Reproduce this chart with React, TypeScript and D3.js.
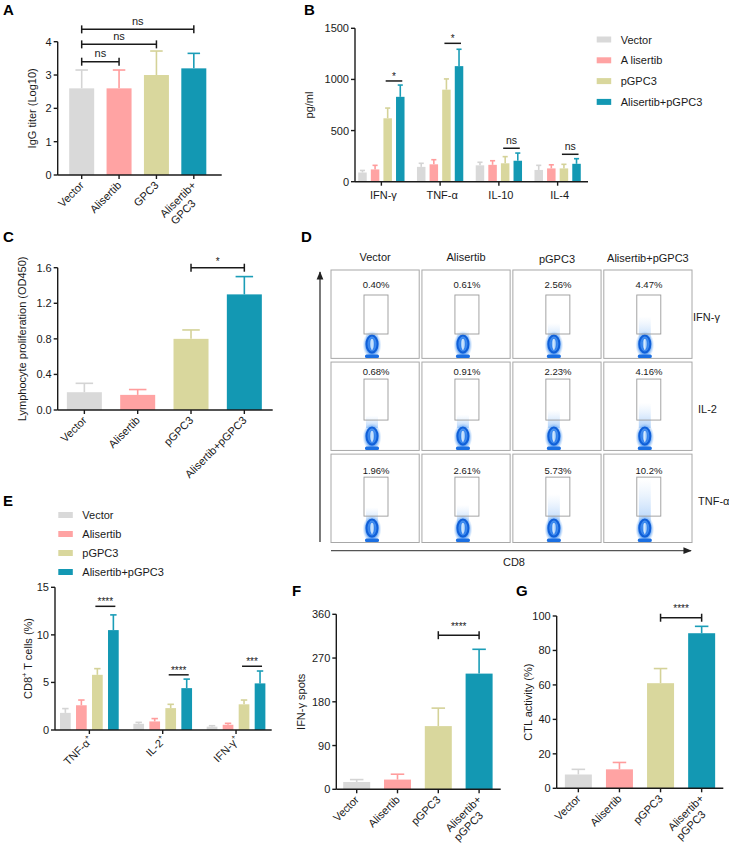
import * as d3 from 'd3';
import React from 'react';

const FONT = '"Liberation Sans", Arial, Helvetica, sans-serif';

// shared groups / colours
const SERIES = ['Vector', 'Alisertib', 'pGPC3', 'Alisertib+pGPC3'];
const B_LEGEND = ['Vector', 'A lisertib', 'pGPC3', 'Alisertib+pGPC3'];
const COLORS = ['#d9d9d9', '#ffa3a3', '#d9d79d', '#1398b3'];
const ERR_COLORS = ['#d4d4d4', '#ff9c9c', '#d4d298', '#1b9db7'];

// A – IgG titer
const A_LABELS = [['Vector'], ['Alisertib'], ['GPC3'], ['Alisertib+', 'GPC3']];
const A_MEAN = [2.6, 2.6, 3.0, 3.2];
const A_ERR = [3.15, 3.15, 3.72, 3.65];
const A_TICKS = [0, 1, 2, 3, 4];
const A_SIG: [number, number, number, string][] = [[0, 1, 3.4, 'ns'], [0, 2, 3.92, 'ns'], [0, 3, 4.37, 'ns']];

// B – cytokines pg/ml
const B_GROUPS = ['IFN-γ', 'TNF-α', 'IL-10', 'IL-4'];
const B_MEAN = [[90, 120, 620, 830], [145, 170, 900, 1130], [160, 165, 180, 205], [115, 130, 130, 175]];
const B_ERR = [[110, 160, 720, 945], [180, 215, 1005, 1295], [190, 205, 245, 280], [160, 165, 170, 225]];
const B_TICKS = [0, 500, 1000, 1500];
const B_SIG: [number, number, string][] = [[0, 985, '*'], [1, 1353, '*'], [2, 327, 'ns'], [3, 268, 'ns']];

// C – lymphocyte proliferation
const C_LABELS = [['Vector'], ['Alisertib'], ['pGPC3'], ['Alisertib+pGPC3']];
const C_MEAN = [0.2, 0.17, 0.8, 1.3];
const C_ERR = [0.3, 0.23, 0.9, 1.5];
const C_TICKS = [0, 0.4, 0.8, 1.2, 1.6];
const C_SIG: [number, number, number, string][] = [[2, 3, 1.6, '*']];

// D – flow cytometry
const D_ROWS = ['IFN-γ', 'IL-2', 'TNF-α'];
const D_PCT = [['0.40%', '0.61%', '2.56%', '4.47%'], ['0.68%', '0.91%', '2.23%', '4.16%'], ['1.96%', '2.61%', '5.73%', '10.2%']];

// E – CD8+ T cells %
const E_GROUPS = ['TNF-α', 'IL-2', 'IFN-γ'];
const E_MEAN = [[1.8, 2.6, 5.8, 10.5], [0.65, 0.9, 2.3, 4.4], [0.35, 0.55, 2.7, 4.9]];
const E_ERR = [[2.25, 3.15, 6.45, 12.1], [0.8, 1.2, 2.7, 5.35], [0.45, 0.7, 3.15, 6.2]];
const E_TICKS = [0, 5, 10, 15];
const E_SIG: [number, number, string][] = [[0, 13.0, '****'], [1, 5.8, '****'], [2, 6.7, '***']];

// F – IFN-γ spots
const FG_LABELS = [['Vector'], ['Alisertib'], ['pGPC3'], ['Alisertib+', 'pGPC3']];
const F_MEAN = [15, 20, 130, 238];
const F_ERR = [20, 31, 167, 288];
const F_TICKS = [0, 90, 180, 270, 360];
const F_SIG: [number, number, number, string][] = [[2, 3, 317, '****']];

// G – CTL activity
const G_MEAN = [8, 11, 61, 90];
const G_ERR = [11, 15, 69.5, 94];
const G_TICKS = [0, 20, 40, 60, 80, 100];
const G_SIG: [number, number, number, string][] = [[2, 3, 99, '****']];

const INK = '#1a1a1a';

function Letter({ x, y, t }: { x: number; y: number; t: string }) {
  return <text x={x} y={y} fontSize={15} fontWeight="bold" fill="#000">{t}</text>;
}

function YAxis({ x, y, ticks, fmt, title, titleX }: any) {
  const [y0, y1] = y.range();
  return (
    <g>
      <line x1={x} x2={x} y1={y0} y2={y1} stroke={INK} strokeWidth={1.4} />
      {ticks.map((t: number) => (
        <g key={t}>
          <line x1={x - 4} x2={x} y1={y(t)} y2={y(t)} stroke={INK} strokeWidth={1.4} />
          <text x={x - 6} y={y(t) + 4} fontSize={11} textAnchor="end" fill={INK}>{fmt(t)}</text>
        </g>
      ))}
      {title && <text transform={`translate(${titleX},${(y0 + y1) / 2}) rotate(-90)`} fontSize={11} textAnchor="middle" fill={INK}>{title}</text>}
    </g>
  );
}

function RotLabel({ x, y, lines }: { x: number; y: number; lines: string[] }) {
  const w1 = lines[0].length * 5.6;
  return (
    <text transform={`translate(${x},${y}) rotate(-45)`} fontSize={11} fill={INK}>
      <tspan x={0} y={0} textAnchor="end">{lines[0]}</tspan>
      {lines[1] && <tspan x={-w1 / 2} y={12.5} textAnchor="middle">{lines[1]}</tspan>}
    </text>
  );
}

function ErrBar({ cx, w, yTop, yBase, color }: any) {
  return (
    <g stroke={color} strokeWidth={1.6}>
      <line x1={cx} x2={cx} y1={yBase} y2={yTop} />
      <line x1={cx - w / 2} x2={cx + w / 2} y1={yTop} y2={yTop} />
    </g>
  );
}

function SimpleBars({ x0, xEnd, y0, yTop, max, band, bw, mean, err, labels, ticks, fmt, title, titleX, sigs, starOff }: any) {
  const y = d3.scaleLinear().domain([0, max]).range([y0, yTop]);
  const x = d3.scaleBand<number>().domain([0, 1, 2, 3]).range(band);
  const cx = (i: number) => (x(i) as number) + x.bandwidth() / 2;
  return (
    <g>
      {mean.map((m: number, i: number) => (
        <g key={i}>
          <ErrBar cx={cx(i)} w={bw * 0.5} yTop={y(err[i])} yBase={y(m)} color={ERR_COLORS[i]} />
          <rect x={cx(i) - bw / 2} y={y(m)} width={bw} height={y0 - y(m)} fill={COLORS[i]} />
        </g>
      ))}
      <line x1={x0} x2={xEnd} y1={y0} y2={y0} stroke={INK} strokeWidth={1.4} />
      {mean.map((_: number, i: number) => (
        <g key={i}>
          <line x1={cx(i)} x2={cx(i)} y1={y0} y2={y0 + 4} stroke={INK} strokeWidth={1.4} />
          <RotLabel x={cx(i) + 3} y={y0 + 11} lines={labels[i]} />
        </g>
      ))}
      <YAxis x={x0} y={y} ticks={ticks} fmt={fmt} title={title} titleX={titleX} />
      {sigs.map(([a, b, lv, lab]: any, k: number) => {
        const yy = y(lv);
        return (
          <g key={k} stroke={INK} strokeWidth={1.5}>
            <line x1={cx(a)} x2={cx(b)} y1={yy} y2={yy} />
            <line x1={cx(a)} x2={cx(a)} y1={yy - 4} y2={yy + 4} />
            <line x1={cx(b)} x2={cx(b)} y1={yy - 4} y2={yy + 4} />
            <text x={(cx(a) + cx(b)) / 2} y={yy - (lab === 'ns' ? 4.5 : starOff)} stroke="none" fill={INK}
              fontSize={lab === 'ns' ? 11 : 10} textAnchor="middle">{lab}</text>
          </g>
        );
      })}
    </g>
  );
}

function GroupBars({ x0, xEnd, y0, yTop, max, band, inner, bw, mean, err, ticks, fmt, title, titleX, sigs, groupLabel }: any) {
  const y = d3.scaleLinear().domain([0, max]).range([y0, yTop]);
  const gx = d3.scaleBand<number>().domain(mean.map((_: any, i: number) => i)).range(band);
  const gc = (g: number) => (gx(g) as number) + gx.bandwidth() / 2;
  const bx = (g: number, s: number) => gc(g) + (s - 1.5) * inner;
  return (
    <g>
      {mean.map((row: number[], g: number) => row.map((m, s) => (
        <g key={`${g}-${s}`}>
          <ErrBar cx={bx(g, s)} w={bw * 0.6} yTop={y(err[g][s])} yBase={y(m)} color={ERR_COLORS[s]} />
          <rect x={bx(g, s) - bw / 2} y={y(m)} width={bw} height={y0 - y(m)} fill={COLORS[s]} />
        </g>
      )))}
      <line x1={x0} x2={xEnd} y1={y0} y2={y0} stroke={INK} strokeWidth={1.4} />
      {mean.map((_: any, g: number) => (
        <g key={g}>
          <line x1={gc(g)} x2={gc(g)} y1={y0} y2={y0 + 4} stroke={INK} strokeWidth={1.4} />
          {groupLabel(g, gc(g))}
        </g>
      ))}
      <YAxis x={x0} y={y} ticks={ticks} fmt={fmt} title={title} titleX={titleX} />
      {sigs.map(([g, lv, lab]: any, k: number) => {
        const yy = y(lv);
        return (
          <g key={k}>
            <line x1={bx(g, 2) - 2} x2={bx(g, 3) + 2} y1={yy} y2={yy} stroke={INK} strokeWidth={1.5} />
            <text x={(bx(g, 2) + bx(g, 3)) / 2} y={yy - (lab === 'ns' ? 4 : 1)} fill={INK}
              fontSize={lab === 'ns' ? 10.5 : 10} textAnchor="middle">{lab}</text>
          </g>
        );
      })}
    </g>
  );
}

function Legend({ x, y, step, labels }: any) {
  return (
    <g>
      {labels.map((l: string, i: number) => (
        <g key={l}>
          <rect x={x} y={y + i * step - 3} width={14.5} height={6} fill={COLORS[i]} />
          <text x={x + 24} y={y + i * step + 4} fontSize={11} fill={INK}>{l}</text>
        </g>
      ))}
    </g>
  );
}

function FlowPanel() {
  const cols = d3.scaleBand<number>().domain([0, 1, 2, 3]).range([331, 692]).paddingInner(0.03);
  const rows = d3.scaleBand<number>().domain([0, 1, 2]).range([270, 542.5]).paddingInner(0.04);
  const bw = cols.bandwidth();
  const bh = rows.bandwidth();
  const gateTop = [25, 17, 23];
  const gateBot = [64, 58, 62];
  const pctOff = [18, 13, 19.5];
  const headY = [261, 261, 263, 262];
  return (
    <g>
      <defs>
        <radialGradient id="halo">
          <stop offset="0%" stopColor="#1a6fe6" stopOpacity={1} />
          <stop offset="60%" stopColor="#2f83ee" stopOpacity={0.85} />
          <stop offset="100%" stopColor="#9cc8f8" stopOpacity={0} />
        </radialGradient>
        <linearGradient id="tail" x1="0" x2="0" y1="1" y2="0">
          <stop offset="0%" stopColor="#4b97f2" stopOpacity={0.45} />
          <stop offset="100%" stopColor="#9cc8f8" stopOpacity={0} />
        </linearGradient>
        <marker id="arr" viewBox="0 0 10 10" refX={9} refY={5} markerWidth={7} markerHeight={7} orient="auto">
          <path d="M0,1 L10,5 L0,9 z" fill="#222" />
        </marker>
      </defs>
      {SERIES.map((s, c) => (
        <text key={s} x={(cols(c) as number) + bw / 2} y={headY[c]} fontSize={11} textAnchor="middle" fill={INK}>{s}</text>
      ))}
      {D_PCT.map((row, r) => row.map((p, c) => {
        const x = cols(c) as number;
        const y = rows(r) as number;
        const v = parseFloat(p);
        const tailH = Math.min(1, v / 10) * (gateBot[r] - gateTop[r]) * 0.9 + 10;
        const bx = x + 41;
        return (
          <g key={`${r}-${c}`}>
            <rect x={x} y={y} width={bw} height={bh} fill="#fff" stroke="#a8a8a8" strokeWidth={1} />
            <text x={x + bw / 2 + 1} y={y + pctOff[r]} fontSize={9.5} textAnchor="middle" fill={INK}>{p}</text>
            <rect x={bx - 6} y={y + gateBot[r] - tailH + 8} width={12} height={tailH} fill="url(#tail)" />
            <ellipse cx={bx} cy={y + 75} rx={9.5} ry={14} fill="url(#halo)" />
            <ellipse cx={bx} cy={y + 74} rx={5.5} ry={8.5} fill="none" stroke="#0f5fd8" strokeWidth={2} />
            <ellipse cx={bx} cy={y + 74} rx={2} ry={5} fill="#9fcbfa" />
            <line x1={bx} x2={bx} y1={y + 69} y2={y + 80} stroke="#fff" strokeWidth={0.8} />
            <rect x={bx - 7} y={y + bh - 4} width={14} height={3.5} rx={1.5} fill="#1a6fe3" />
            <rect x={x + 33} y={y + gateTop[r]} width={24} height={gateBot[r] - gateTop[r]} fill="none" stroke="#9a9a9a" strokeWidth={0.9} />
          </g>
        );
      }))}
      {D_ROWS.map((l, r) => (
        <text key={l} x={r === 0 ? 693 : 698} y={(rows(r) as number) + bh / 2 + 7} fontSize={11} fill={INK}>{l}</text>
      ))}
      <line x1={320} x2={320} y1={542} y2={272} stroke="#222" strokeWidth={1.2} markerEnd="url(#arr)" />
      <line x1={331} x2={691} y1={550.7} y2={550.7} stroke="#555" strokeWidth={1.2} markerEnd="url(#arr)" />
      <text x={514} y={566} fontSize={11} textAnchor="middle" fill={INK}>CD8</text>
    </g>
  );
}

export default function App() {
  const f0 = (t: number) => `${t}`;
  const f1 = (t: number) => t.toFixed(1);
  return (
    <svg width={729} height={847} style={{ position: 'absolute', left: 0, top: 0, background: '#fff' }} fontFamily={FONT}>
      <rect width={729} height={847} fill="#fff" />
      {/* A */}
      <Letter x={3} y={15} t="A" />
      <SimpleBars x0={57.7} xEnd={221.7} y0={175} yTop={41.7} max={4} band={[63, 212.5]} bw={25}
        mean={A_MEAN} err={A_ERR} labels={A_LABELS} ticks={A_TICKS} fmt={f0}
        title="IgG titer (Log10)" titleX={35.5} sigs={A_SIG} starOff={5} />

      {/* B */}
      <Letter x={304} y={15} t="B" />
      <GroupBars x0={355} xEnd={588} y0={181.7} yTop={28.3} max={1500} band={[352, 587]} inner={12.6} bw={8.5}
        mean={B_MEAN} err={B_ERR} ticks={B_TICKS} fmt={f0} title="pg/ml" titleX={313} sigs={B_SIG}
        groupLabel={(g: number, x: number) => (
          <text key={g} x={x + 2} y={199} fontSize={11} textAnchor="middle" fill={INK}>{B_GROUPS[g]}</text>
        )} />
      <Legend x={596.7} y={39.5} step={20.8} labels={B_LEGEND} />

      {/* C */}
      <Letter x={3} y={242} t="C" />
      <SimpleBars x0={57.7} xEnd={272.7} y0={410} yTop={267.7} max={1.6} band={[57.7, 271]} bw={35}
        mean={C_MEAN} err={C_ERR} labels={C_LABELS} ticks={C_TICKS} fmt={f1}
        title="Lymphocyte proliferation (OD450)" titleX={26} sigs={C_SIG} starOff={3} />

      {/* D */}
      <Letter x={301} y={242} t="D" />
      <FlowPanel />

      {/* E */}
      <Letter x={3} y={506} t="E" />
      <Legend x={58.3} y={515} step={19} labels={SERIES} />
      <GroupBars x0={55} xEnd={271.7} y0={730} yTop={587.3} max={15} band={[52.7, 272.7]} inner={16} bw={10.7}
        mean={E_MEAN} err={E_ERR} ticks={E_TICKS} fmt={f0} title={null} titleX={32} sigs={E_SIG}
        groupLabel={(g: number, x: number) => (
          <text key={g} transform={`translate(${x + 4},${741}) rotate(-45)`} fontSize={11} textAnchor="end" fill={INK}>
            {E_GROUPS[g]}<tspan fontSize={7} dy={-5}>+</tspan>
          </text>
        )} />
      <text transform={`translate(32,658.5) rotate(-90)`} fontSize={11} textAnchor="middle" fill={INK}>
        CD8<tspan fontSize={7.5} dy={-5}>+</tspan><tspan dy={5}> T cells (%)</tspan>
      </text>

      {/* F */}
      <Letter x={292} y={596} t="F" />
      <SimpleBars x0={336.3} xEnd={500.7} y0={789.3} yTop={614.3} max={360} band={[336.3, 499.5]} bw={27}
        mean={F_MEAN} err={F_ERR} labels={FG_LABELS} ticks={F_TICKS} fmt={f0}
        title="IFN-γ spots" titleX={305} sigs={F_SIG} starOff={5.5} />

      {/* G */}
      <Letter x={516} y={596} t="G" />
      <SimpleBars x0={556.7} xEnd={723.3} y0={788.3} yTop={616} max={100} band={[557.8, 722.2]} bw={27}
        mean={G_MEAN} err={G_ERR} labels={FG_LABELS} ticks={G_TICKS} fmt={f0}
        title="CTL activity (%)" titleX={532} sigs={G_SIG} starOff={5.5} />
    </svg>
  );
}
